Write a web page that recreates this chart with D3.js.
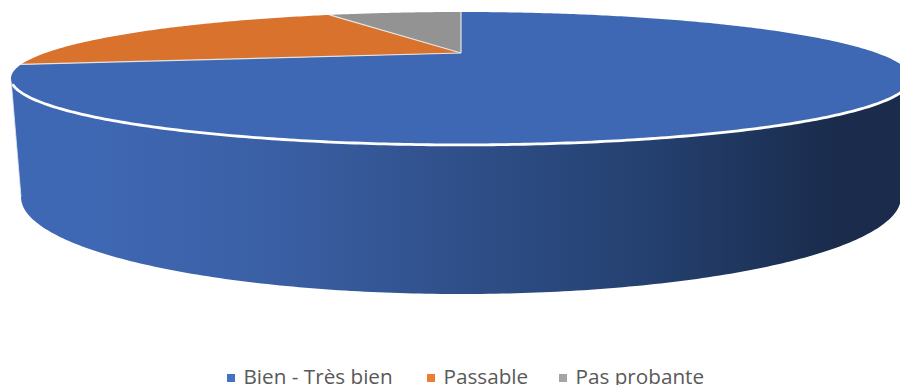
<!DOCTYPE html>
<html><head><meta charset="utf-8">
<script src="https://cdnjs.cloudflare.com/ajax/libs/d3/7.8.5/d3.min.js"></script>
<style>html,body{margin:0;padding:0;background:#fff;overflow:hidden}svg{display:block}</style>
</head><body><svg id="c" width="900" height="385"></svg>
<script>
const categories = ["Bien - Très bien", "Passable", "Pas probante"];
const values = [72, 21, 7];
const faceColors = ["#3f68b4", "#d9722d", "#939393"];
const legendColors = ["#4472c4", "#ed7d31", "#a5a5a5"];

const svg = d3.select("#c");
// perspective disc: apex is the projected centre of the pie
const apex = {x: 461, y: 53}, k = 0.383, bY = 56.7, aX = 415.7;
const project = t => {
  const u = Math.sin(t), v = Math.cos(t), d = 1 + k * v;
  return [apex.x + aX * u / d, apex.y - bY * v / d];
};
// base rim of the cylinder
const base = {cx: 461, cy: 197, rx: 440, ry: 97};
const line = d3.line();

const defs = svg.append("defs");
const grad = defs.append("linearGradient").attr("id", "wall")
  .attr("gradientUnits", "userSpaceOnUse").attr("x1", 90).attr("x2", 840).attr("y1", 0).attr("y2", 0);
[[0, "#3f68b4"], [0.25, "#3a5fa4"], [0.5, "#2f4f89"], [0.75, "#24406f"], [1, "#1a2b4b"]].forEach(s =>
  grad.append("stop").attr("offset", s[0]).attr("stop-color", s[1]));

// wall spans between the widest points of the projected top rim
const tw = Math.acos(-k);
const rimAngles = d3.range(0, 1.0001, 0.004).map(f => tw + f * (2 * Math.PI - 2 * tw));
const rimTop = rimAngles.map(project);
const baseHalf = d3.range(0, 1.0001, 0.005).map(f => {
  const t = Math.PI * 1.5 - f * Math.PI;
  return [base.cx + base.rx * Math.sin(t), base.cy - base.ry * Math.cos(t)];
});
svg.append("path").attr("d", line(rimTop.concat(baseHalf)) + "Z").attr("fill", "url(#wall)");

// light edge of the wall on the left
svg.append("path").attr("d", line([rimTop[rimTop.length - 1], baseHalf[0]])).attr("fill", "none")
  .attr("stroke", "#dfe5f2").attr("stroke-width", 0.8);

// top faces, from the pie layout
const pie = d3.pie().sort(null).value(d => d)(values);
const slicePts = p => {
  const n = Math.max(8, Math.ceil((p.endAngle - p.startAngle) * 80));
  const pts = [[apex.x, apex.y]];
  d3.range(n + 1).forEach(i => pts.push(project(p.startAngle + (p.endAngle - p.startAngle) * i / n)));
  return pts;
};
svg.selectAll("path.slice").data(pie).join("path").attr("class", "slice")
  .attr("d", p => line(slicePts(p)) + "Z")
  .attr("fill", (p, i) => faceColors[i]);

// light radial separators only
svg.selectAll("path.sep").data(pie).join("path").attr("class", "sep")
  .attr("d", p => line([[apex.x, apex.y], project(p.startAngle)]))
  .attr("fill", "none").attr("stroke", "#e4e4e4").attr("stroke-width", 1.2);

// white highlight along the front rim
svg.append("path").attr("d", line(rimTop.slice(6, -10))).attr("fill", "none")
  .attr("stroke", "#fff").attr("stroke-width", 2.8).attr("stroke-linecap", "round");

// legend
const legendX = [227, 427, 559];
const lg = svg.selectAll("g.lg").data(categories).join("g").attr("class", "lg")
  .attr("transform", (d, i) => `translate(${legendX[i]},0)`);
lg.append("rect").attr("x", 0).attr("y", 374).attr("width", 8).attr("height", 8)
  .attr("fill", (d, i) => legendColors[i]);
lg.append("text").attr("x", 16.5).attr("y", 384)
  .attr("font-family", "'Open Sans', sans-serif").attr("font-size", 20.7).attr("fill", "#595959")
  .text(d => d);
</script></body></html>
